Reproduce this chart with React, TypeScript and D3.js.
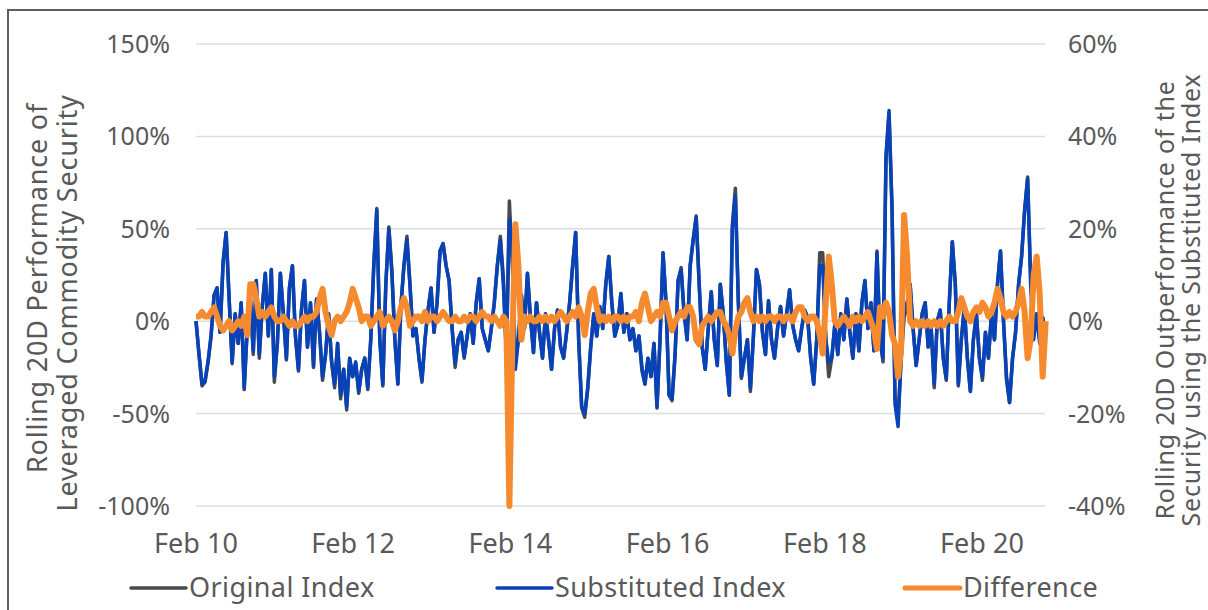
import React from "react";
import * as d3 from "d3";

// fortnightly observations starting Feb 2010
const startDate = new Date(2010, 1, 1);
const stepDays = 14;

// Rolling 20D performance, %, left axis
const originalIndex = [
  0, -18, -35, -33, -22, -8, 14, 18, -6, 32, 48, 12, -23, 4, -12, 10, -37, -4, 14, -18, 22, -20, 8, 26, -8, 28,
  -33, -12, 26, 4, -21, 18, 30, -8, -27, 6, 22, -14, 10, -25, 12, -6, -32, -18, 4, -22, -36, -12, -42, -26, -48, -20,
  -30, -23, -39, -26, -20, -37, -10, 30, 61, -10, -35, 20, 51, 28, -10, -34, 8, 30, 46, 20, -8, -4, -20, -33, -10, 6,
  18, -6, 10, 38, 42, 30, 22, -4, -25, -10, -6, -20, -8, 4, -12, 10, 23, -4, -10, -16, -4, 10, 30, 46, 24, -18,
  65, 30, -22, -10, 14, -4, 26, 2, -17, 10, -6, -20, 4, -10, -26, -4, 6, -14, -20, -6, 10, 30, 48, -10, -47, -52,
  -37, -14, 4, -8, 8, -4, 20, 35, 10, -8, -2, 15, -6, 4, -10, -4, -16, -8, -27, -34, -20, -30, -12, -47, -10, 37,
  10, -40, -43, -18, 22, 29, 4, -10, 30, 44, 57, 20, -14, -26, -4, 16, -10, -24, 20, 4, -22, -40, 52, 72, 10, -31,
  -20, -10, -38, -8, 28, 20, -6, -18, 11, -10, -20, -4, 8, -8, 4, 17, -2, -10, -16, -4, 6, 2, -20, -34, -10, 37,
  37, -8, -30, -20, -2, -18, 4, -10, 12, -6, -20, 4, -16, 10, 22, -4, 10, -16, 38, -10, -22, 88, 112, 62, -42, -50,
  -22, 2, 8, 20, -4, -24, -10, 4, 10, -14, -4, -36, 0, 6, -20, -32, 10, 43, 20, -35, -10, 8, -20, -38, -10, 4,
  -20, -32, -6, -20, 4, -10, 20, 38, 0, -32, -44, -20, -6, 20, 35, 60, 78, 24, -8, 4, -10, 2, -8,
];

const substitutedIndex = [
  0, -18, -34, -32, -22, -8, 14, 18, -6, 32, 48, 12, -22, 4, -12, 10, -36, -4, 14, -16, 22, -18, 8, 26, -8, 28,
  -30, -12, 26, 4, -20, 18, 30, -8, -26, 6, 22, -14, 10, -24, 12, -6, -30, -18, 4, -22, -34, -12, -40, -26, -46, -20,
  -30, -22, -38, -26, -20, -36, -10, 30, 60, -10, -34, 20, 50, 26, -10, -34, 8, 30, 44, 20, -8, -4, -20, -32, -10, 6,
  18, -6, 10, 38, 42, 30, 22, -4, -23, -10, -6, -19, -8, 4, -12, 10, 23, -4, -10, -16, -4, 10, 30, 44, 20, -18,
  55, 40, -26, -10, 14, -4, 26, 2, -17, 10, -6, -20, 4, -10, -26, -4, 6, -14, -20, -6, 10, 30, 48, -10, -46, -50,
  -36, -14, 4, -8, 8, -4, 20, 35, 10, -8, -2, 15, -6, 4, -10, -4, -16, -8, -25, -34, -20, -30, -12, -46, -10, 37,
  10, -40, -42, -18, 22, 28, 4, -10, 30, 44, 56, 20, -14, -26, -4, 16, -10, -24, 20, 4, -22, -40, 50, 68, 10, -30,
  -20, -10, -36, -8, 28, 20, -6, -18, 11, -10, -20, -4, 8, -8, 4, 17, -2, -10, -16, -4, 6, 2, -20, -34, -10, 30,
  30, -10, -22, -20, -2, -18, 4, -10, 12, -6, -20, 4, -16, 10, 22, -4, 10, -16, 37, -10, -20, 90, 114, 60, -45, -57,
  -20, 8, 10, 20, -4, -24, -10, 4, 10, -14, -4, -34, 0, 6, -20, -31, 10, 43, 20, -34, -10, 8, -20, -38, -10, 4,
  -20, -30, -6, -20, 4, -10, 20, 38, 0, -30, -44, -20, -6, 20, 35, 60, 77, 20, -10, 4, -12, 2, -8,
];

// Rolling 20D outperformance, %, right axis
const difference = [
  1, 1, 2, 1, 1, 2, 3, 1, -1, -2, -1, 0, -2, -1, 0, -1, 1, -3, 8, 8, 5, 1, 2, 1, 2, 3,
  1, 0, 0, 1, 0, -1, 0, -1, -1, 0, 1, 0, 1, 1, 2, 5, 7, 2, -1, -3, 0, 1, 0, 1, 2, 4,
  7, 5, 3, 0, 1, 1, -1, 0, 1, 2, -1, 0, 1, 0, -2, 0, 3, 5, 3, -1, 0, 1, 1, 0, 2, 0,
  1, 1, 0, 1, 2, 1, 0, 0, 1, 0, 0, 1, 0, 1, 1, 0, 1, 2, 1, 1, 0, 1, 0, -1, 1, 0,
  -40, -4, 21, 12, -4, 1, 0, 1, 0, 0, 1, 0, 1, 0, 1, 0, 1, 2, 1, 0, 1, 2, 1, 3, 1, -3,
  2, 6, 7, 3, 0, 1, 0, 1, 0, 1, 1, 0, 1, 0, 1, 1, 2, 0, 4, 6, 3, 0, 1, 2, 1, 4,
  4, 1, -2, 0, 1, 2, 1, 3, 3, 1, -4, -5, -1, 0, 1, 0, 1, 2, 2, 0, -1, -3, -7, -2, 1, 2,
  4, 5, 2, 0, 1, 0, 1, 0, 1, 1, 0, 1, 1, 0, 1, 1, 0, 2, 3, 3, 1, 0, 1, 1, 0, -3,
  -7, 4, 14, 8, 0, -1, 0, 1, 0, -1, 1, 0, 1, 0, 1, 2, 0, -2, -6, 3, 1, 4, 2, -3, -5, -12,
  -6, 23, 14, 0, -1, 0, -1, 0, -1, 0, -1, 0, -1, 0, -1, 0, 1, 0, 0, 2, 5, 3, 1, 0, 2, 3,
  2, 4, 3, 1, 2, 4, 7, 5, 2, 1, 2, 1, 2, 4, 7, 2, -8, -4, 10, 14, 6, -12, 0,
];

const leftTicks = [-100, -50, 0, 50, 100, 150];
const rightTicks = [-40, -20, 0, 20, 40, 60];
const xTickYears = [2010, 2012, 2014, 2016, 2018, 2020];

const seriesNames = ["Original Index", "Substituted Index", "Difference"];
const seriesColors = ["#454b4e", "#0742b8", "#f58b2e"];

const W = 1208;
const H = 610;
const FONT = "'Noto Sans', sans-serif";
const TEXT = "#595959";

export default function App() {
  const left = 196;
  const right = 1045;
  const top = 44;
  const bottom = 506;

  const dates = substitutedIndex.map((_, i) => d3.timeDay.offset(startDate, i * stepDays));

  const x = d3
    .scaleTime()
    .domain([new Date(2010, 1, 1), new Date(2020, 1, 1)])
    .range([left, 982]);
  const yL = d3.scaleLinear().domain([-100, 150]).range([bottom, top]);
  const yR = d3.scaleLinear().domain([-40, 60]).range([bottom, top]);

  const lineL = d3
    .line<number>()
    .x((_, i) => x(dates[i]))
    .y((d) => yL(d));
  const lineR = d3
    .line<number>()
    .x((_, i) => x(dates[i]))
    .y((d) => yR(d));

  const legendX = [131, 497, 905];

  return (
    <svg
      width={W}
      height={H}
      style={{ position: "absolute", left: 0, top: 0, background: "#fff" }}
      fontFamily={FONT}
    >
      <rect x={8} y={10} width={1400} height={800} fill="#fff" stroke="#5a5f61" strokeWidth={2} />

      {leftTicks.map((t) => (
        <line key={t} x1={left} x2={right} y1={yL(t)} y2={yL(t)} stroke="#dcdfe0" strokeWidth={1.5} />
      ))}

      {leftTicks.map((t) => (
        <text key={t} x={170} y={yL(t)} dy="0.36em" textAnchor="end" fontSize={25} fill={TEXT}>
          {t}%
        </text>
      ))}
      {rightTicks.map((t) => (
        <text key={t} x={1068} y={yR(t)} dy="0.36em" textAnchor="start" fontSize={25} fill={TEXT}>
          {t}%
        </text>
      ))}
      {xTickYears.map((yr) => (
        <text key={yr} x={x(new Date(yr, 1, 1))} y={553} textAnchor="middle" fontSize={27} fill={TEXT}>
          {d3.timeFormat("%b %y")(new Date(yr, 1, 1))}
        </text>
      ))}

      <g fill={TEXT} fontSize={27} letterSpacing={0.8} textAnchor="middle">
        <text transform="translate(47,288) rotate(-90)">Rolling 20D Performance of</text>
        <text transform="translate(77,303) rotate(-90)">Leveraged Commodity Security</text>
      </g>
      <g fill={TEXT} fontSize={25} letterSpacing={0.8} textAnchor="middle">
        <text transform="translate(1174,300) rotate(-90)">Rolling 20D Outperformance of the</text>
        <text transform="translate(1200,300) rotate(-90)">Security using the Substituted Index</text>
      </g>

      <path d={lineL(originalIndex) ?? ""} fill="none" stroke={seriesColors[0]} strokeWidth={3.5} strokeLinejoin="round" />
      <path d={lineL(substitutedIndex) ?? ""} fill="none" stroke={seriesColors[1]} strokeWidth={3.5} strokeLinejoin="round" />
      <path d={lineR(difference) ?? ""} fill="none" stroke={seriesColors[2]} strokeWidth={6} strokeLinejoin="round" />

      {seriesNames.map((name, i) => (
        <g key={name}>
          <line
            x1={legendX[i]}
            x2={legendX[i] + 55}
            y1={588}
            y2={588}
            stroke={seriesColors[i]}
            strokeWidth={i === 2 ? 5 : 3.5}
            strokeLinecap="round"
          />
          <text x={legendX[i] + 58} y={597} fontSize={27} letterSpacing={0.4} fill={TEXT}>
            {name}
          </text>
        </g>
      ))}
    </svg>
  );
}
